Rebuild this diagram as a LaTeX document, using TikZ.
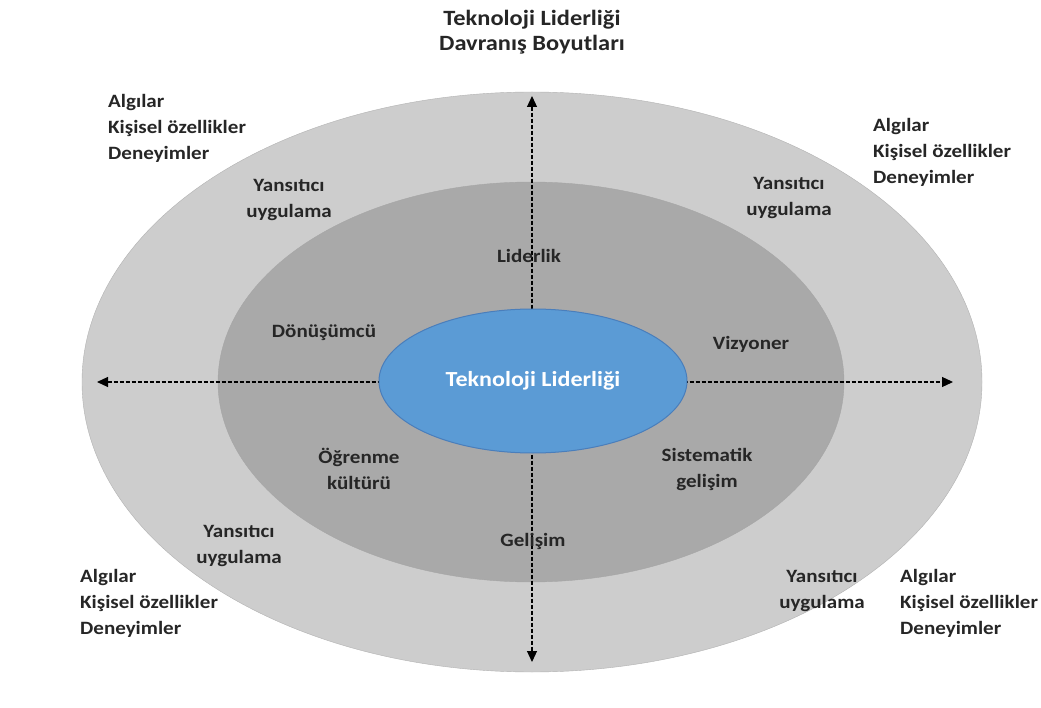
\documentclass[tikz,border=0pt]{standalone}
\usepackage{fontspec}
\setmainfont{Carlito}[FakeStretch=1.12]
\usetikzlibrary{arrows.meta,shapes.geometric}
\definecolor{outerring}{HTML}{CDCDCD}
\definecolor{innerring}{HTML}{A9A9A9}
\definecolor{core}{HTML}{5B9BD5}
\definecolor{coreline}{HTML}{4A7EBB}

\begin{document}
\begin{tikzpicture}[x=1pt,y=-1pt,
  t/.style={font=\bfseries\fontsize{18.8}{26}\selectfont,text=black!85,align=center,inner sep=0pt},
  tl/.style={t,align=left,anchor=west},
  ax/.style={{Triangle[length=11pt,width=10pt]}-{Triangle[length=11pt,width=10pt]},
    dash pattern=on 4pt off 2pt,line width=1.2pt}
]
\useasboundingbox (0,0) rectangle (1041,708);
\fill[white] (0,0) rectangle (1041,708);

\draw[fill=outerring,draw=black!30] (532,382) ellipse [x radius=450pt,y radius=290pt];
\draw[fill=innerring,draw=black!35] (531,382) ellipse [x radius=313pt,y radius=200pt];

\coordinate (top) at (532,96);
\coordinate (bottom) at (532,662);
\coordinate (left) at (97,382);
\coordinate (right) at (953,382);
\draw[ax] (top) -- (bottom);
\draw[ax] (left) -- (right);

\node[ellipse,draw=coreline,fill=core,line width=1pt,minimum width=308pt,minimum height=144pt,
  font=\bfseries\fontsize{21.5}{24}\selectfont,text=white,inner sep=0pt] (center) at (533,381)
  {Teknoloji Liderliği};

\node[t,font=\bfseries\fontsize{21.8}{25}\selectfont] (title) at (532,32) {Teknoloji Liderliği\\Davranış Boyutları};

\node[tl] (tlfactors) at (108,128) {Algılar\\Kişisel özellikler\\Deneyimler};
\node[tl] (trfactors) at (873,152) {Algılar\\Kişisel özellikler\\Deneyimler};
\node[tl] (blfactors) at (80,603) {Algılar\\Kişisel özellikler\\Deneyimler};
\node[tl] (brfactors) at (900,603) {Algılar\\Kişisel özellikler\\Deneyimler};

\node[t] (tlreflect) at (289,200) {Yansıtıcı\\uygulama};
\node[t] (trreflect) at (789,198) {Yansıtıcı\\uygulama};
\node[t] (blreflect) at (239,546) {Yansıtıcı\\uygulama};
\node[t] (brreflect) at (822,591) {Yansıtıcı\\uygulama};

\node[t] (leadership) at (529,256) {Liderlik};
\node[t] (transform) at (324,333) {Dönüşümcü};
\node[t] (vision) at (751,344) {Vizyoner};
\node[t] (learning) at (359,469) {Öğrenme\\kültürü};
\node[t] (systematic) at (707,469) {Sistematik\\gelişim};
\node[t] (growth) at (533,541) {Gelişim};
\end{tikzpicture}
\end{document}
